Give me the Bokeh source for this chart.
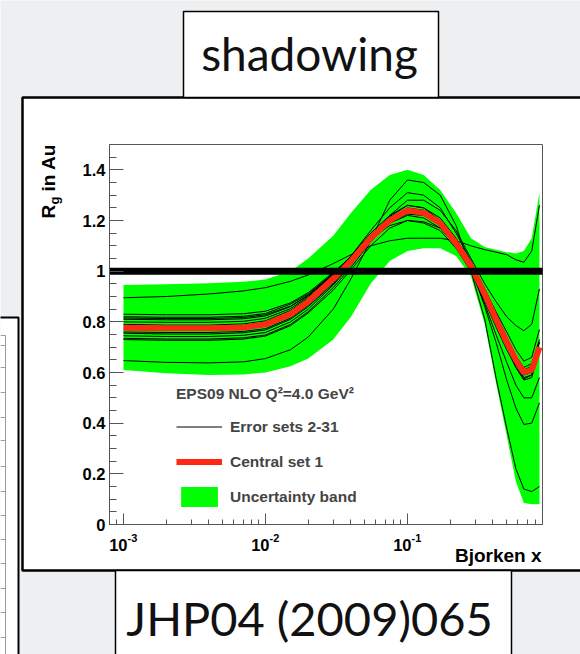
import math
from bokeh.plotting import figure
from bokeh.models import (Range1d, FixedTicker, BoxAnnotation, Label, Legend,
                          LegendItem)
from bokeh.embed import file_html
from bokeh.resources import INLINE

# ---------------- data ----------------
x_grid = [0.001, 0.002, 0.004, 0.007, 0.01, 0.015, 0.02, 0.03, 0.04, 0.055,
          0.075, 0.1, 0.13, 0.17, 0.22, 0.28, 0.35, 0.42, 0.5, 0.58, 0.66,
          0.75, 0.85]

central = [0.777, 0.775, 0.775, 0.778, 0.79, 0.83, 0.88, 0.97, 1.04, 1.13,
           1.20, 1.24, 1.23, 1.19, 1.11, 1.02, 0.91, 0.81, 0.72, 0.65, 0.60,
           0.61, 0.70]

band_upper = [0.945, 0.948, 0.952, 0.958, 0.967, 1.00, 1.05, 1.14, 1.23, 1.32,
              1.38, 1.40, 1.38, 1.32, 1.23, 1.13, 1.095, 1.085, 1.075, 1.07,
              1.08, 1.13, 1.31]
band_lower = [0.61, 0.597, 0.59, 0.592, 0.60, 0.625, 0.655, 0.73, 0.82, 0.95,
              1.04, 1.08, 1.09, 1.09, 1.06, 0.98, 0.79, 0.56, 0.35, 0.17,
              0.085, 0.08, 0.08]

err_01 = [0.895, 0.90, 0.91, 0.922, 0.935, 0.96, 0.985, 1.03, 1.065, 1.10, 1.12, 1.13, 1.13, 1.13, 1.12, 1.10, 1.085, 1.075, 1.065, 1.045, 1.035, 1.08, 1.26]
err_02 = [0.647, 0.64, 0.638, 0.642, 0.655, 0.69, 0.74, 0.85, 0.97, 1.12, 1.28, 1.36, 1.35, 1.30, 1.18, 1.00, 0.81, 0.58, 0.38, 0.22, 0.14, 0.13, 0.15]
err_03 = [0.83, 0.828, 0.828, 0.832, 0.842, 0.875, 0.915, 0.995, 1.055, 1.125, 1.18, 1.20, 1.195, 1.17, 1.10, 1.02, 0.93, 0.84, 0.76, 0.69, 0.645, 0.66, 0.77]
err_04 = [0.82, 0.818, 0.818, 0.822, 0.833, 0.87, 0.91, 0.99, 1.05, 1.13, 1.19, 1.22, 1.21, 1.17, 1.10, 1.01, 0.90, 0.80, 0.71, 0.635, 0.59, 0.60, 0.69]
err_05 = [0.81, 0.808, 0.808, 0.812, 0.823, 0.86, 0.905, 0.99, 1.06, 1.15, 1.22, 1.26, 1.25, 1.21, 1.13, 1.03, 0.93, 0.82, 0.71, 0.62, 0.57, 0.58, 0.69]
err_06 = [0.80, 0.798, 0.798, 0.802, 0.814, 0.852, 0.90, 0.985, 1.055, 1.14, 1.21, 1.245, 1.24, 1.20, 1.12, 1.02, 0.86, 0.72, 0.57, 0.46, 0.395, 0.40, 0.48]
err_07 = [0.755, 0.752, 0.752, 0.757, 0.768, 0.81, 0.86, 0.95, 1.03, 1.13, 1.22, 1.28, 1.28, 1.24, 1.16, 1.05, 0.95, 0.88, 0.82, 0.785, 0.765, 0.79, 0.93]
err_08 = [0.745, 0.742, 0.742, 0.747, 0.758, 0.80, 0.85, 0.945, 1.025, 1.125, 1.21, 1.25, 1.24, 1.20, 1.12, 1.02, 0.91, 0.80, 0.71, 0.64, 0.60, 0.615, 0.72]
err_09 = [0.735, 0.732, 0.732, 0.737, 0.748, 0.79, 0.84, 0.935, 1.015, 1.115, 1.20, 1.235, 1.225, 1.185, 1.10, 1.00, 0.88, 0.78, 0.69, 0.62, 0.575, 0.59, 0.69]
err_10 = [0.815, 0.813, 0.813, 0.817, 0.828, 0.862, 0.905, 0.985, 1.05, 1.13, 1.19, 1.225, 1.22, 1.19, 1.12, 1.03, 0.93, 0.83, 0.74, 0.665, 0.62, 0.635, 0.73]
err_11 = [0.76, 0.758, 0.758, 0.762, 0.773, 0.815, 0.865, 0.955, 1.03, 1.13, 1.215, 1.26, 1.25, 1.20, 1.11, 1.00, 0.87, 0.75, 0.64, 0.55, 0.50, 0.50, 0.58]
err_12 = [0.73, 0.727, 0.727, 0.732, 0.744, 0.785, 0.835, 0.925, 1.005, 1.10, 1.17, 1.20, 1.19, 1.16, 1.09, 1.00, 0.90, 0.80, 0.72, 0.655, 0.61, 0.625, 0.72]
err_13 = [0.79, 0.787, 0.787, 0.792, 0.804, 0.845, 0.895, 0.985, 1.06, 1.16, 1.25, 1.31, 1.30, 1.25, 1.15, 1.04, 0.92, 0.81, 0.71, 0.63, 0.58, 0.59, 0.68]
error_sets = [err_01, err_02, err_03, err_04, err_05, err_06, err_07, err_08,
              err_09, err_10, err_11, err_12, err_13]

unity_level = 1.0

y_ticks = [0, 0.2, 0.4, 0.6, 0.8, 1.0, 1.2, 1.4]
y_tick_labels = ["0", "0.2", "0.4", "0.6", "0.8", "1", "1.2", "1.4"]
y_minor = [0.05, 0.1, 0.15, 0.25, 0.3, 0.35, 0.45, 0.5, 0.55, 0.65, 0.7, 0.75,
           0.85, 0.9, 0.95, 1.05, 1.1, 1.15, 1.25, 1.3, 1.35, 1.45]
x_ticks = [0.001, 0.01, 0.1]
x_tick_exponents = ["-3", "-2", "-1"]
x_minor = [0.0008, 0.0009, 0.002, 0.003, 0.004, 0.005, 0.006, 0.007, 0.008,
           0.009, 0.02, 0.03, 0.04, 0.05, 0.06, 0.07, 0.08, 0.09, 0.2, 0.3,
           0.4, 0.5, 0.6, 0.7, 0.8]

legend_header = "EPS09 NLO Q²=4.0 GeV²"
legend_labels = ["Error sets 2-31", "Central set 1", "Uncertainty band"]
slide_title = "shadowing"
slide_reference = "JHP04 (2009)065"

# ---------------- layout geometry (page pixels) ----------------
W, H = 580, 654
X_LO, X_HI = 7.97e-4, 0.893      # axis range of the plot frame
Y_LO, Y_HI = 0.0, 1.5
PF_L, PF_R, PF_T, PF_B = 109, 542, 144, 524   # plot frame in page pixels

lx0, lx1 = math.log10(X_LO), math.log10(X_HI)
ppd = (PF_R - PF_L) / (lx1 - lx0)
xr = Range1d(10 ** (lx0 - PF_L / ppd), 10 ** (lx1 + (W - PF_R) / ppd))
ppu = (PF_B - PF_T) / (Y_HI - Y_LO)
yr = Range1d(Y_LO - (H - PF_B) / ppu, Y_HI + PF_T / ppu)

FONT = "Liberation Sans"
AXC = "#555555"
BASE_FIX = 0.3   # label anchor sits this many em below the visual baseline

p = figure(width=W, height=H, x_axis_type="log", x_range=xr, y_range=yr,
           output_backend="svg", toolbar_location=None, min_border=0)
p.border_fill_color = "#eeeff1"
p.background_fill_color = "#eeeff1"
p.outline_line_color = None
p.grid.visible = False

ax = p.xaxis[0]
ax.fixed_location = Y_LO
ax.bounds = (X_LO, X_HI)
ax.ticker = FixedTicker(ticks=x_ticks, minor_ticks=x_minor)
ax.major_label_overrides = {t: "" for t in x_ticks}
ax.major_tick_in = 11
ax.major_tick_out = 0
ax.minor_tick_in = 5
ax.minor_tick_out = 0
ax.axis_line_color = AXC
ax.major_tick_line_color = AXC
ax.minor_tick_line_color = AXC

ay = p.yaxis[0]
ay.fixed_location = X_LO
ay.bounds = (Y_LO, Y_HI)
ay.ticker = FixedTicker(ticks=y_ticks, minor_ticks=y_minor)
ay.major_label_overrides = dict(zip(y_ticks, y_tick_labels))
ay.major_tick_in = 14
ay.major_tick_out = 0
ay.minor_tick_in = 7
ay.minor_tick_out = 0
ay.major_label_standoff = 4
ay.major_label_text_font = FONT
ay.major_label_text_font_style = "bold"
ay.major_label_text_font_size = "16.5px"
ay.major_label_text_color = "black"
ay.axis_line_color = AXC
ay.major_tick_line_color = AXC
ay.minor_tick_line_color = AXC


def cbox(left, right, top, bottom, fill=None, line=None, lw=1.0, level="underlay"):
    p.add_layout(BoxAnnotation(left=left, right=right, top=H - top, bottom=H - bottom,
                               left_units="screen", right_units="screen",
                               top_units="screen", bottom_units="screen",
                               fill_color=fill, fill_alpha=1.0 if fill else 0.0,
                               line_color=line, line_alpha=1.0 if line else 0.0,
                               line_width=lw, level=level))


def clabel(x, y, text, size, font=FONT, style="bold", align="left",
           rotated=False, data_x=False, x_offset=0, color="black"):
    fix = BASE_FIX * size
    if rotated:
        x = x - fix
    else:
        y = y - fix
    p.add_layout(Label(x=x, y=H - y,
                       x_units="data" if data_x else "screen",
                       y_units="screen", text=text,
                       text_font=font, text_font_style=style,
                       text_font_size=f"{size}px", text_align=align,
                       text_baseline="alphabetic",
                       angle=math.pi / 2 if rotated else 0.0,
                       x_offset=x_offset, text_color=color))


# slide panels (decoration)
cbox(22, 700, 97, 570, fill="white", line="black", lw=2.5)
cbox(-10, 18, 317, 700, fill="white", line="black", lw=2.0)
cbox(4.5, 5.5, 335, 700, fill="#9a9a9a")
for ty in [335, 345, 367, 392, 417, 440, 466, 491, 515, 539, 563, 588, 612, 637]:
    cbox(0, 5, ty - 0.5, ty + 0.5, fill="#9a9a9a")

# plot frame outline
p.add_layout(BoxAnnotation(left=X_LO, right=X_HI, bottom=Y_LO, top=Y_HI,
                           fill_alpha=0.0, line_color=AXC, line_alpha=1.0,
                           line_width=1, level="underlay"))

# data
r_band = p.varea(x=x_grid, y1=band_lower, y2=band_upper, fill_color="#00ff00")
r_err = p.multi_line(xs=[x_grid] * len(error_sets), ys=error_sets,
                     line_color="black", line_width=1)
r_cen = p.line(x_grid, central, line_color="#ff2814", line_width=6)
p.line([X_LO, X_HI], [unity_level, unity_level], line_color="black", line_width=7)

legend = Legend(items=[LegendItem(label=legend_labels[0], renderers=[r_err]),
                       LegendItem(label=legend_labels[1], renderers=[r_cen]),
                       LegendItem(label=legend_labels[2], renderers=[r_band])],
                title=legend_header, location=(176, H - 509),
                glyph_width=46, glyph_height=25, label_height=25,
                label_standoff=8, spacing=10, padding=0, margin=0,
                border_line_color=None, background_fill_alpha=0,
                label_text_font=FONT, label_text_font_style="bold",
                label_text_font_size="15.5px",
                title_text_font=FONT, title_text_font_style="bold",
                title_text_font_size="15.5px", title_standoff=11)
p.add_layout(legend)

# x tick labels 10^n
for xv, ex in zip(x_ticks, x_tick_exponents):
    clabel(xv, 549, "10", 16.5, align="right", data_x=True, x_offset=4)
    clabel(xv, 541, ex, 11, align="left", data_x=True, x_offset=4)

# axis titles
clabel(541, 561, "Bjorken x", 19, align="right")
clabel(54, 218, "R", 19, rotated=True)
clabel(58, 204, "g", 13, rotated=True)
clabel(54, 191, "in Au", 19, rotated=True)

# slide boxes
cbox(183, 438, 11, 97, fill="white", line="black", lw=1.5, level="annotation")
clabel(309, 67, slide_title, 46, font="Lato", style="normal", align="center", color="#111111")
cbox(115, 511, 570, 700, fill="white", line="black", lw=1.5, level="annotation")
clabel(309, 632, slide_reference, 47, font="Lato", style="normal", align="center", color="#111111")

open("out.html", "w").write(file_html(p, INLINE))
